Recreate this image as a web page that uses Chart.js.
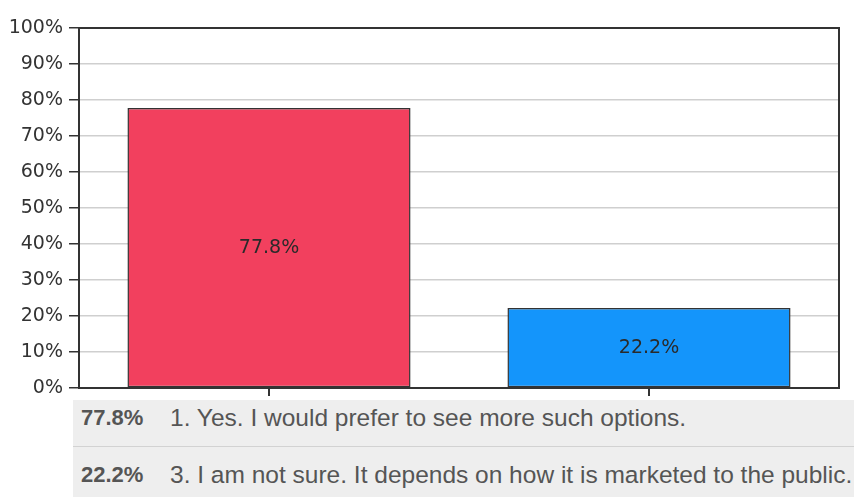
<!DOCTYPE html>
<html><head><meta charset="utf-8">
<script src="https://cdn.jsdelivr.net/npm/chart.js@4.4.0/dist/chart.umd.min.js"></script>
<style>
html,body{margin:0;padding:0;background:#fff;width:854px;height:497px;overflow:hidden;font-family:"Liberation Sans",Arial,sans-serif}
#wrap{position:absolute;left:0;top:0;width:854px;height:400px}
#tbl{position:absolute;left:73px;top:400px;width:781px;height:97px;background:#eeeeee}
.row{position:absolute;left:0;width:781px;font-size:24.5px;line-height:26px;white-space:nowrap}
.pct{position:absolute;left:8px;color:#555;font-weight:bold;font-size:22px}
.lbl{position:absolute;left:97px;color:#555}
.sep{position:absolute;left:0;width:781px;height:1px;background:#d2d2d2}
</style></head>
<body>
<div id="wrap"><canvas id="c" width="854" height="400"></canvas></div>
<div id="tbl"></div>
<script>
const categories = ["1. Yes. I would prefer to see more such options.", "3. I am not sure. It depends on how it is marketed to the public."];
const values = [77.8, 22.2];
const barColors = ["#F2405E", "#1495FB"];
const yTicks = [0,10,20,30,40,50,60,70,80,90,100];

// table
const tbl = document.getElementById('tbl');
categories.forEach((c,i)=>{
  const r = document.createElement('div');
  r.className='row';
  r.style.top = (5 + i*57) + 'px';
  r.innerHTML = '<span class="pct">'+values[i].toFixed(1)+'%</span><span class="lbl"></span>';
  r.querySelector('.lbl').textContent = c;
  tbl.appendChild(r);
  if(i < categories.length-1){
    const s = document.createElement('div');
    s.className='sep'; s.style.top = (46 + i*57) + 'px';
    tbl.appendChild(s);
  }
});

const framePlugin = {
  id:'frame',
  afterDraw(chart){
    const a = chart.chartArea, ctx = chart.ctx;
    ctx.save();
    ctx.strokeStyle='#333'; ctx.lineWidth=2;
    ctx.strokeRect(a.left, a.top, a.right-a.left, a.bottom-a.top);
    ctx.restore();
  }
};
const labelPlugin = {
  id:'vals',
  afterDatasetsDraw(chart){
    const ctx = chart.ctx;
    const meta = chart.getDatasetMeta(0);
    ctx.save();
    ctx.font = '19px "DejaVu Sans"';
    ctx.fillStyle = '#2a2a2a';
    ctx.textAlign='center'; ctx.textBaseline='middle';
    meta.data.forEach((bar,i)=>{
      ctx.fillText(values[i].toFixed(1)+'%', bar.x, (bar.y+bar.base)/2);
    });
    ctx.restore();
  }
};

new Chart(document.getElementById('c'), {
  type:'bar',
  data:{
    labels: categories.map((_,i)=>String(i)),
    datasets:[{
      data: values,
      backgroundColor: barColors,
      borderColor:'#333',
      borderWidth:1.5,
      borderSkipped:false,
      categoryPercentage:1,
      barPercentage:0.745
    }]
  },
  options:{
    responsive:false,
    animation:false,
    devicePixelRatio:1,
    layout:{padding:{top:28,right:15,left:0,bottom:0}},
    plugins:{legend:{display:false},tooltip:{enabled:false}},
    scales:{
      x:{
        grid:{offset:false,drawOnChartArea:false,tickLength:8,tickColor:'#333',lineWidth:2},
        border:{color:'#333',width:2},
        ticks:{display:false},
        afterFit(s){s.height=12;s.paddingLeft=0;s.paddingRight=0;}
      },
      y:{
        min:0,max:100,
        afterBuildTicks(s){s.ticks = yTicks.map(v=>({value:v}));},
        ticks:{callback:v=>v+'%',color:'#333',font:{family:'DejaVu Sans',size:19},padding:6},
        grid:{color:'#cfcfcf',tickColor:'#333',tickLength:10,lineWidth:1.5},
        border:{color:'#333',width:2},
        afterFit(s){s.width=79;s.paddingTop=0;s.paddingBottom=0;}
      }
    }
  },
  plugins:[framePlugin,labelPlugin]
});
</script>
</body></html>
